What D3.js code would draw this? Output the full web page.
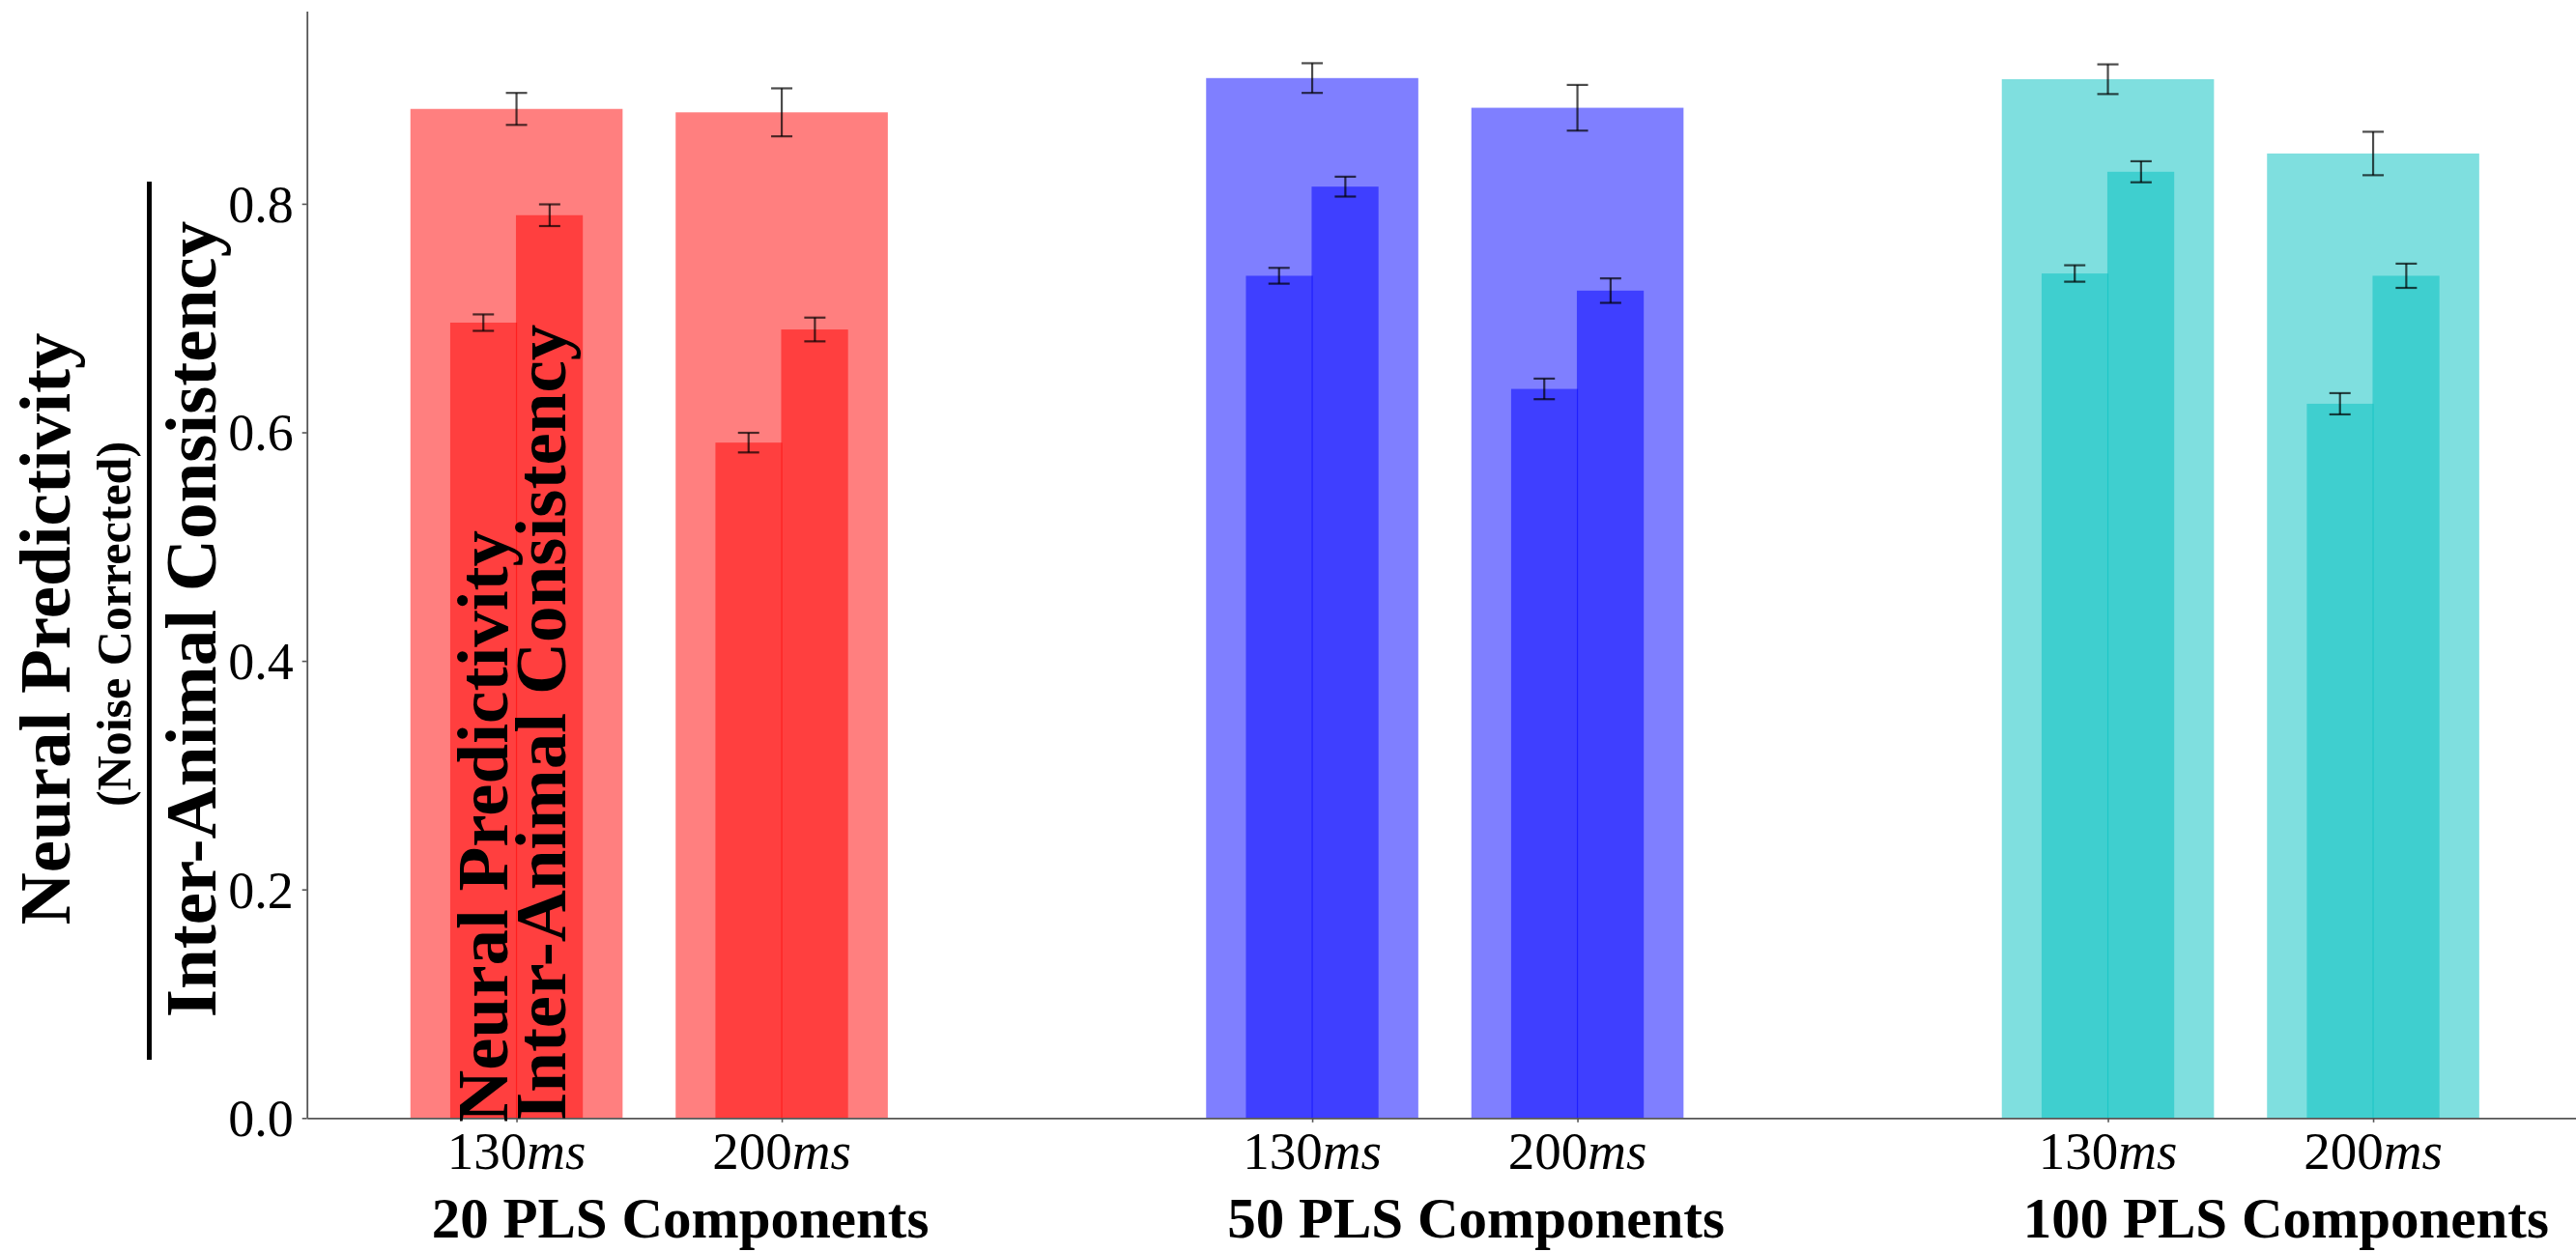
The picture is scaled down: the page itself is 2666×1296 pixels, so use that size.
<!DOCTYPE html>
<html>
<head>
<meta charset="utf-8">
<script src="https://cdn.jsdelivr.net/npm/d3@7"></script>
<style>
  html, body { margin: 0; padding: 0; background: #fff; }
  svg { display: block; }
</style>
</head>
<body>
<svg id="chart" width="2666" height="1296"></svg>
<script>
// ---------------- data ----------------
const groupLabels = ["20 PLS Components", "50 PLS Components", "100 PLS Components"];
const latencyLabels = ["130", "200"];
const xPositions = [0, 1, 3, 4, 6, 7];
const overallValues = [0.883, 0.880, 0.910, 0.884, 0.909, 0.844];
const overallErrors = [0.014, 0.021, 0.013, 0.020, 0.013, 0.019];
const leftValues = [0.696, 0.591, 0.737, 0.638, 0.739, 0.625];
const leftErrors = [0.0072, 0.0086, 0.0069, 0.0090, 0.0072, 0.0093];
const rightValues = [0.790, 0.690, 0.815, 0.724, 0.828, 0.737];
const rightErrors = [0.0095, 0.0104, 0.0087, 0.0107, 0.0092, 0.0106];
const yTicks = [0.0, 0.2, 0.4, 0.6, 0.8];
const groupColors = ["rgb(255,0,0)", "rgb(0,0,255)", "rgb(0,191,191)"];

// ---------------- layout ----------------
const svg = d3.select("#chart");
svg.append("rect").attr("width", 2666).attr("height", 1296).attr("fill", "#fff");

const x = d3.scaleLinear().domain([-0.79, 7.79]).range([317.7, 2672.9]);
const y = d3.scaleLinear().domain([0, 0.9685]).range([1157.3, 11.6]);

const serif = "'Liberation Serif', 'Times New Roman', serif";
const bars = xPositions.map((p, i) => ({
  p, i,
  g: Math.floor(i / 2),
  lat: latencyLabels[i % 2],
  overall: overallValues[i], overallErr: overallErrors[i],
  left: leftValues[i], leftErr: leftErrors[i],
  right: rightValues[i], rightErr: rightErrors[i]
}));

const plot = svg.append("g");

// light (overall) bars
plot.selectAll("rect.light").data(bars).join("rect")
  .attr("class", "light")
  .attr("x", d => x(d.p - 0.4))
  .attr("width", d => x(d.p + 0.4) - x(d.p - 0.4))
  .attr("y", d => y(d.overall))
  .attr("height", d => y(0) - y(d.overall))
  .attr("fill", d => groupColors[d.g])
  .attr("fill-opacity", 0.5);

// dark bars (left / right halves)
plot.selectAll("rect.darkL").data(bars).join("rect")
  .attr("class", "darkL")
  .attr("x", d => x(d.p - 0.25))
  .attr("width", d => x(d.p) - x(d.p - 0.25) + 0.6)
  .attr("y", d => y(d.left))
  .attr("height", d => y(0) - y(d.left))
  .attr("fill", d => groupColors[d.g])
  .attr("fill-opacity", 0.5);

plot.selectAll("rect.darkR").data(bars).join("rect")
  .attr("class", "darkR")
  .attr("x", d => x(d.p) - 0.6)
  .attr("width", d => x(d.p + 0.25) - x(d.p) + 0.6)
  .attr("y", d => y(d.right))
  .attr("height", d => y(0) - y(d.right))
  .attr("fill", d => groupColors[d.g])
  .attr("fill-opacity", 0.5);

// error bars
const errs = [];
bars.forEach(d => {
  errs.push({ cx: d.p, v: d.overall, e: d.overallErr });
  errs.push({ cx: d.p - 0.125, v: d.left, e: d.leftErr });
  errs.push({ cx: d.p + 0.125, v: d.right, e: d.rightErr });
});
const cap = 11;
const eg = plot.selectAll("g.err").data(errs).join("g").attr("class", "err")
  .attr("stroke", "#000").attr("stroke-opacity", 0.7).attr("stroke-width", 2.2);
eg.append("line")
  .attr("x1", d => x(d.cx)).attr("x2", d => x(d.cx))
  .attr("y1", d => y(d.v - d.e)).attr("y2", d => y(d.v + d.e));
eg.append("line")
  .attr("x1", d => x(d.cx) - cap).attr("x2", d => x(d.cx) + cap)
  .attr("y1", d => y(d.v + d.e)).attr("y2", d => y(d.v + d.e));
eg.append("line")
  .attr("x1", d => x(d.cx) - cap).attr("x2", d => x(d.cx) + cap)
  .attr("y1", d => y(d.v - d.e)).attr("y2", d => y(d.v - d.e));

// ---------------- axes ----------------
const axisColor = "#555";
const yAxis = svg.append("g").attr("transform", `translate(${x(-0.79)},0)`)
  .call(d3.axisLeft(y).tickValues(yTicks).tickFormat(d3.format(".1f"))
    .tickSize(5).tickSizeOuter(0).tickPadding(9));
yAxis.select(".domain").attr("stroke", axisColor).attr("stroke-width", 1.8);
yAxis.selectAll(".tick line").attr("stroke", axisColor).attr("stroke-width", 1.6);
yAxis.selectAll(".tick text")
  .attr("font-family", serif).attr("font-size", 54).attr("fill", "#000")
  .attr("dy", "0.34em");

const xAxis = svg.append("g").attr("transform", `translate(0,${y(0)})`)
  .call(d3.axisBottom(x).tickValues(xPositions).tickFormat("")
    .tickSize(4.5).tickSizeOuter(0));
xAxis.select(".domain").attr("stroke", axisColor).attr("stroke-width", 1.8);
xAxis.selectAll(".tick line").attr("stroke", axisColor).attr("stroke-width", 1.6);

// x tick labels: 130ms / 200ms with italic "ms"
const xt = svg.append("g").selectAll("text").data(bars).join("text")
  .attr("x", d => x(d.p))
  .attr("y", 1210)
  .attr("text-anchor", "middle")
  .attr("font-family", serif).attr("font-size", 55).attr("fill", "#000");
xt.append("tspan").text(d => d.lat);
xt.append("tspan").attr("font-style", "italic").text("ms");

// group labels
svg.append("g").selectAll("text").data(groupLabels).join("text")
  .attr("x", (d, i) => x(xPositions[i * 2] - 0.32))
  .attr("y", 1281)
  .attr("text-anchor", "start")
  .attr("font-family", serif).attr("font-size", 59).attr("font-weight", "bold")
  .attr("fill", "#000")
  .text(d => d);

// ---------------- y label (fraction) ----------------
const yl = svg.append("g");
yl.append("text")
  .attr("transform", "translate(72,651) rotate(-90)")
  .attr("text-anchor", "middle")
  .attr("font-family", serif).attr("font-size", 75).attr("font-weight", "bold")
  .text("Neural Predictivity");
yl.append("text")
  .attr("transform", "translate(135,646) rotate(-90)")
  .attr("text-anchor", "middle")
  .attr("font-family", serif).attr("font-size", 50).attr("font-weight", "bold")
  .text("(Noise Corrected)");
yl.append("line")
  .attr("x1", 154.5).attr("x2", 154.5).attr("y1", 188).attr("y2", 1097)
  .attr("stroke", "#000").attr("stroke-width", 5);
yl.append("text")
  .attr("transform", "translate(223,641) rotate(-90)")
  .attr("text-anchor", "middle")
  .attr("font-family", serif).attr("font-size", 75).attr("font-weight", "bold")
  .text("Inter-Animal Consistency");

// duplicated label drawn inside the first bar
const inner = svg.append("g");
inner.append("text")
  .attr("transform", "translate(525,1162) rotate(-90)")
  .attr("text-anchor", "start")
  .attr("font-family", serif).attr("font-size", 75).attr("font-weight", "bold")
  .text("Neural Predictivity");
inner.append("text")
  .attr("transform", "translate(585,1160) rotate(-90)")
  .attr("text-anchor", "start")
  .attr("font-family", serif).attr("font-size", 75).attr("font-weight", "bold")
  .text("Inter-Animal Consistency");
</script>
</body>
</html>
